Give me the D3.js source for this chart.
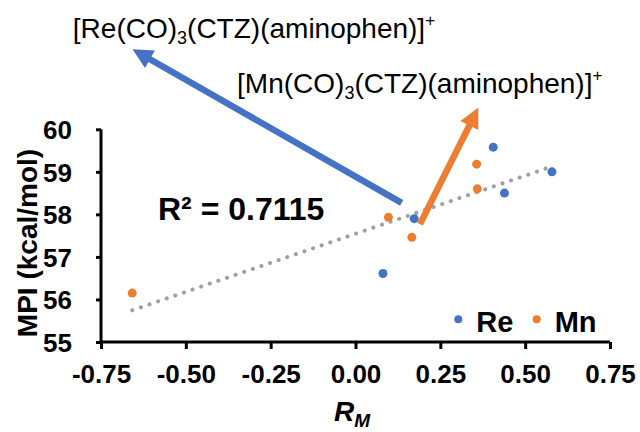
<!DOCTYPE html>
<html><head><meta charset="utf-8">
<script src="https://cdn.jsdelivr.net/npm/d3@7"></script>
<style>
body{margin:0;background:#fff;}
svg{display:block;font-family:Arial,"Liberation Sans",sans-serif;}
</style></head>
<body><svg id="c" width="640" height="432"></svg>
<script>
// ---- data ----
const reX = [0.081, 0.173, 0.406, 0.439, 0.579];
const reY = [56.61, 57.90, 59.58, 58.50, 59.00];
const mnX = [-0.658, 0.097, 0.166, 0.357, 0.359];
const mnY = [56.15, 57.93, 57.46, 59.18, 58.60];
const xTicks = [-0.75, -0.50, -0.25, 0.00, 0.25, 0.50, 0.75];
const yTicks = [55, 56, 57, 58, 59, 60];
const seriesNames = ["Re", "Mn"];
const r2Label = "R² = 0.7115";
// annotation arrows in data units: [fromX, fromY, toX, toY]
const reArrow = [0.136, 58.27, -0.657, 61.88];
const mnArrow = [0.190, 57.77, 0.362, 60.51];
const reLabelPos = [-0.833, 62.14];
const mnLabelPos = [-0.349, 60.85];

const W = 640, H = 432;
const colors = {Re: "#4472C4", Mn: "#ED7D31"};
const svg = d3.select("#c");
const x = d3.scaleLinear().domain([-0.75, 0.75]).range([101, 610]);
const y = d3.scaleLinear().domain([55, 60]).range([342, 129.3]);

// trendline (least squares over all points)
const allX = reX.concat(mnX), allY = reY.concat(mnY);
const mx = d3.mean(allX), my = d3.mean(allY);
let sxy = 0, sxx = 0;
allX.forEach((v, i) => { sxy += (v - mx) * (allY[i] - my); sxx += (v - mx) * (v - mx); });
const slope = sxy / sxx, icpt = my - slope * mx;
const tx = d3.extent(allX);
svg.append("line")
  .attr("x1", x(tx[0])).attr("y1", y(icpt + slope * tx[0]))
  .attr("x2", x(tx[1])).attr("y2", y(icpt + slope * tx[1]))
  .attr("stroke", "#A0A0A0").attr("stroke-width", 4)
  .attr("stroke-linecap", "round").attr("stroke-dasharray", "0.1 9");

// axes
const fmtX = d => d3.format(".2f")(d).replace("\u2212", "-");
const xAxis = d3.axisBottom(x).tickValues(xTicks).tickSize(7).tickFormat(fmtX);
const gx = svg.append("g").attr("transform", `translate(0,${y(55)})`).call(xAxis);
const yAxis = d3.axisLeft(y).tickValues(yTicks).tickSize(5).tickFormat(d3.format("d"));
const gy = svg.append("g").attr("transform", `translate(${x(-0.75)},0)`).call(yAxis);
[gx, gy].forEach(g => {
  g.select(".domain").attr("stroke", "#000").attr("stroke-width", 3);
  g.selectAll(".tick line").attr("stroke", "#000").attr("stroke-width", 3);
  g.selectAll(".tick text").attr("fill", "#000").attr("font-size", 26).attr("font-weight", "bold")
    .attr("font-family", "Arial,'Liberation Sans',sans-serif");
});
gx.select(".domain").attr("d", `M${x(-0.75)},0H${x(0.75)}`);
gy.select(".domain").attr("d", `M0,${y(55)}V${y(60)}`);
gx.selectAll(".tick text").attr("dy", null).attr("y", 41);
gy.selectAll(".tick text").attr("x", -29).attr("dy", "0.36em");

// points
function drawSeries(xs, ys, col) {
  svg.append("g").selectAll("circle").data(xs).join("circle")
    .attr("cx", d => x(d)).attr("cy", (d, i) => y(ys[i])).attr("r", 4.5).attr("fill", col);
}
drawSeries(reX, reY, colors.Re);
drawSeries(mnX, mnY, colors.Mn);

// arrows
function arrow(a, col) {
  const x1 = x(a[0]), y1 = y(a[1]), x2 = x(a[2]), y2 = y(a[3]);
  const dx = x2 - x1, dy = y2 - y1, L = Math.hypot(dx, dy), ux = dx / L, uy = dy / L;
  const hl = 20, hw = 10;
  const bx = x2 - ux * hl, by = y2 - uy * hl;
  svg.append("line").attr("x1", x1).attr("y1", y1).attr("x2", bx + ux * 2).attr("y2", by + uy * 2)
    .attr("stroke", col).attr("stroke-width", 6.5);
  svg.append("path").attr("fill", col)
    .attr("d", `M${x2},${y2}L${bx - uy * hw},${by + ux * hw}L${bx + uy * hw},${by - ux * hw}Z`);
}
arrow(reArrow, colors.Re);
arrow(mnArrow, colors.Mn);

// complex labels
function complexLabel(pos, metal) {
  const t = svg.append("text").attr("x", x(pos[0])).attr("y", y(pos[1]))
    .attr("font-size", 28).attr("fill", "#000");
  t.append("tspan").text(`[${metal}(CO)`);
  t.append("tspan").attr("font-size", 18).attr("dy", 6).text("3");
  t.append("tspan").attr("dy", -6).text("(CTZ)(aminophen)]");
  t.append("tspan").attr("font-size", 17).attr("dy", -12).text("+");
}
complexLabel(reLabelPos, "Re");
complexLabel(mnLabelPos, "Mn");

// R2 label
svg.append("text").attr("x", 158).attr("y", 220).attr("font-size", 32).attr("font-weight", "bold")
  .attr("fill", "#000").text(r2Label);

// legend
const leg = svg.append("g");
const legX = [458.3, 536.7];
seriesNames.forEach((n, i) => {
  leg.append("circle").attr("cx", legX[i]).attr("cy", 319.3).attr("r", 4).attr("fill", colors[n]);
  leg.append("text").attr("x", legX[i] + 18).attr("y", 331.5).attr("font-size", 29)
    .attr("font-weight", "bold").attr("fill", "#000").text(n);
});

// axis titles
svg.append("text").attr("transform", `translate(37,243) rotate(-90)`).attr("text-anchor", "middle")
  .attr("font-size", 28).attr("font-weight", "bold").attr("fill", "#000").text("MPI (kcal/mol)");
const xt = svg.append("text").attr("x", 334).attr("y", 421).attr("font-size", 28)
  .attr("font-weight", "bold").attr("font-style", "italic").attr("fill", "#000");
xt.append("tspan").text("R");
xt.append("tspan").attr("font-size", 19).attr("dy", 6).text("M");
</script></body></html>
